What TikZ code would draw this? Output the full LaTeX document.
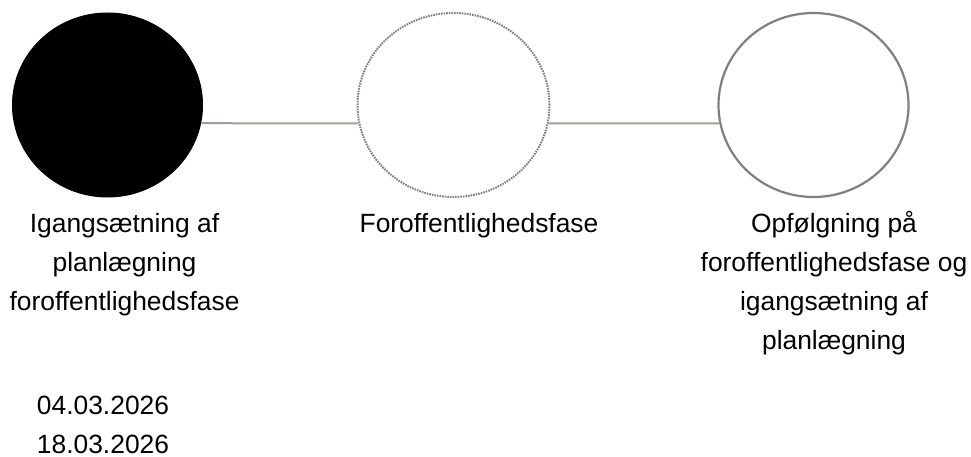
\documentclass[tikz,border=0pt]{standalone}
\usepackage{fontspec}
\setmainfont{Liberation Sans}
\usetikzlibrary{shapes.geometric}
\definecolor{linkgray}{HTML}{A39C9C}
\definecolor{ringgray}{HTML}{808080}
\tikzset{
  phase/.style={ellipse, inner sep=0pt, minimum width=190pt, minimum height=184pt},
  link/.style={draw=linkgray, line width=2pt},
  label/.style={inner sep=0pt, align=center, font=\fontsize{26.4}{39}\selectfont, anchor=base}
}
\begin{document}
\begin{tikzpicture}[x=1pt,y=-1pt]
\useasboundingbox (0,0) rectangle (971,457);
\node[phase, fill=black, draw=black, line width=1pt] (c1) at (107.5,105) {};
\node[phase, draw=ringgray, line width=2pt, dash pattern=on 1.6pt off 1pt, minimum width=192pt] (c2) at (453.5,105) {};
\node[phase, draw=ringgray, line width=2.2pt] (c3) at (813.5,105) {};
\draw[link] (c1.-11) -- (c2.191);
\draw[link] (c2.-11) -- (c3.191);
\node[label] (t1) at (124.5,310) {Igangsætning af\\planlægning\\foroffentlighedsfase};
\node[label] (t2) at (479,232) {Foroffentlighedsfase};
\node[label] (t3) at (834,349) {Opfølgning på\\foroffentlighedsfase og\\igangsætning af\\planlægning};
\node[label] (d1) at (103,453) {04.03.2026\\18.03.2026};
\end{tikzpicture}
\end{document}
